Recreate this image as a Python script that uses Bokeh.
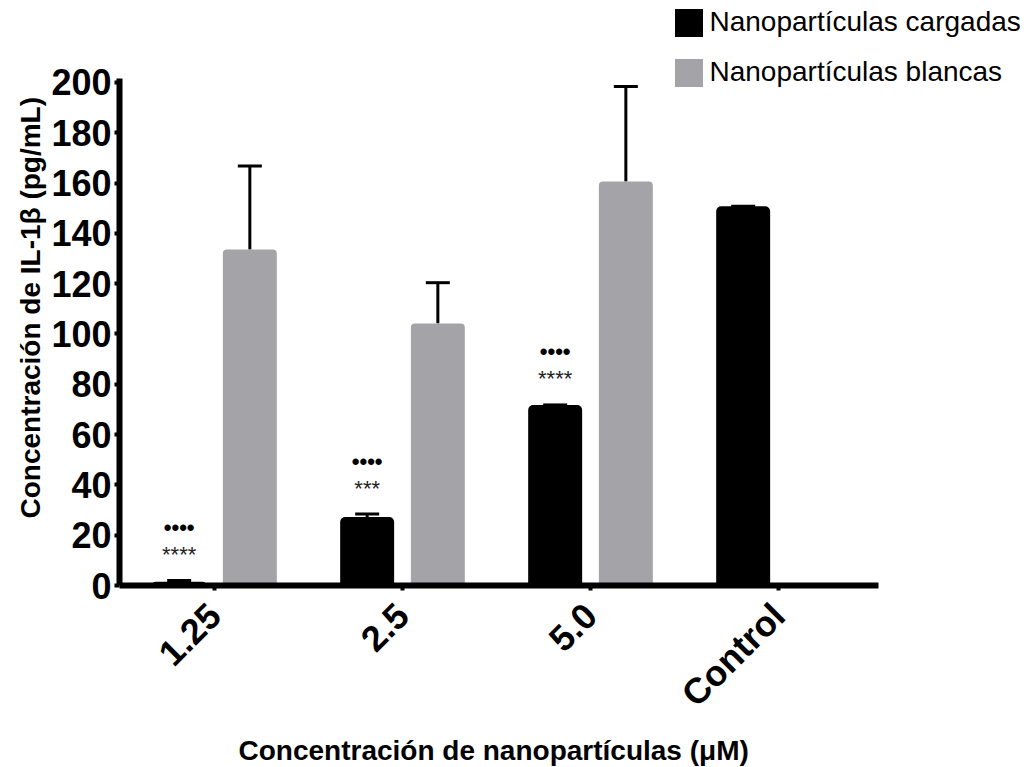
from bokeh.plotting import figure
from bokeh.models import (ColumnDataSource, Range1d, Legend, LegendItem, Whisker,
                          TeeHead, FixedTicker, Title)
from bokeh.core.properties import value
from bokeh.embed import file_html
from bokeh.resources import INLINE

# ---- data ----
categories = ["1.25", "2.5", "5.0", "Control"]
cargadas = [1.5, 27.2, 71.8, 150.8]
cargadas_err = [0.5, 1.2, 0.0, 0.0]
blancas = [133.6, 104.2, 160.6, 0.0]
blancas_err = [33.2, 16.2, 37.8, 0.0]
dots_labels = ["••••", "••••", "••••", ""]
stars_labels = ["****", "***", "****", ""]
y_ticks = [0, 20, 40, 60, 80, 100, 120, 140, 160, 180, 200]
x_title = "Concentración de nanopartículas (μM)"
y_title = "Concentración de IL-1β (pg/mL)"
series_names = ["Nanopartículas cargadas", "Nanopartículas blancas"]

FONT = "Liberation Sans"
BLACK = "#000000"
GREY = "#a4a3a8"
OFF = 0.188
BW = 0.287

xs = list(range(len(categories)))
src_c = ColumnDataSource(dict(
    x=[i - OFF for i in xs], top=cargadas,
    upper=[v + e for v, e in zip(cargadas, cargadas_err)],
    dots=dots_labels, stars=stars_labels))
src_b_idx = [i for i, v in enumerate(blancas) if v > 0]
src_b = ColumnDataSource(dict(
    x=[xs[i] + OFF for i in src_b_idx], top=[blancas[i] for i in src_b_idx],
    upper=[blancas[i] + blancas_err[i] for i in src_b_idx]))

p = figure(width=1032, height=767, output_backend="svg", toolbar_location=None,
           x_range=Range1d(-0.5053, 4.351), y_range=Range1d(0, 232.6),
           min_border_left=119, min_border_right=0, min_border_top=0,
           min_border_bottom=182)
p.outline_line_color = None
p.grid.grid_line_color = None
p.background_fill_color = "white"

r_c = p.vbar(x="x", top="top", bottom=0, width=BW, source=src_c, fill_color=BLACK,
             line_color=None, border_radius=(5, 5, 0, 0))
r_b = p.vbar(x="x", top="top", bottom=0, width=BW, source=src_b, fill_color=GREY,
             line_color=None, border_radius=(4, 4, 0, 0))

for src in (src_c, src_b):
    w = Whisker(source=src, base="x", upper="upper", lower="top",
                upper_head=TeeHead(size=24, line_width=3, line_color=BLACK),
                lower_head=None, line_width=3, line_color=BLACK)
    p.add_layout(w)

p.text(x="x", y="upper", text="stars", source=src_c, y_offset=-26,
       text_align="center", text_baseline="middle", text_font=value(FONT),
       text_font_size="22px", text_color="#222222")
p.text(x="x", y="upper", text="dots", source=src_c, y_offset=-53,
       text_align="center", text_baseline="middle", text_font=value(FONT),
       text_font_size="22px", text_font_style="bold", text_color=BLACK)

# axes
xa = p.xaxis[0]
xa.ticker = FixedTicker(ticks=xs)
xa.major_label_overrides = {i: c for i, c in zip(xs, categories)}
xa.major_label_orientation = 0.785398
xa.bounds = (-0.5053, 3.532)
ya = p.yaxis[0]
ya.ticker = FixedTicker(ticks=y_ticks)
ya.bounds = (0, 201.5)
for ax in (xa, ya):
    ax.minor_tick_line_color = None
    ax.axis_line_width = 6
    ax.axis_line_color = BLACK
    ax.major_tick_line_width = 4
    ax.major_tick_line_color = BLACK
    ax.major_tick_out = 5
    ax.major_tick_in = 0
    ax.major_label_text_font = FONT
    ax.major_label_text_font_style = "bold"
    ax.major_label_text_font_size = "36px"
    ax.major_label_text_color = BLACK
ya.major_label_standoff = 3
xa.major_label_standoff = 19

# axis titles, aligned to the visible axis extent as in the original
p.add_layout(Title(text=x_title, align="left", offset=119, standoff=3,
                   text_font=FONT, text_font_style="bold", text_font_size="28px",
                   text_color=BLACK), "below")
p.add_layout(Title(text=y_title, align="left", offset=67, standoff=6,
                   text_font=FONT, text_font_style="bold", text_font_size="28px",
                   text_color=BLACK), "left")

legend = Legend(items=[LegendItem(label=series_names[0], renderers=[r_c]),
                       LegendItem(label=series_names[1], renderers=[r_b])],
                location=(551.5, 495.5), orientation="vertical",
                glyph_width=35, glyph_height=35, label_height=35,
                label_text_font=FONT, label_text_font_size="28px",
                label_text_color=BLACK,
                label_standoff=4, spacing=15, padding=0, margin=0,
                border_line_color=None, background_fill_alpha=0)
p.add_layout(legend, "center")

open("out.html", "w").write(file_html(p, INLINE))
